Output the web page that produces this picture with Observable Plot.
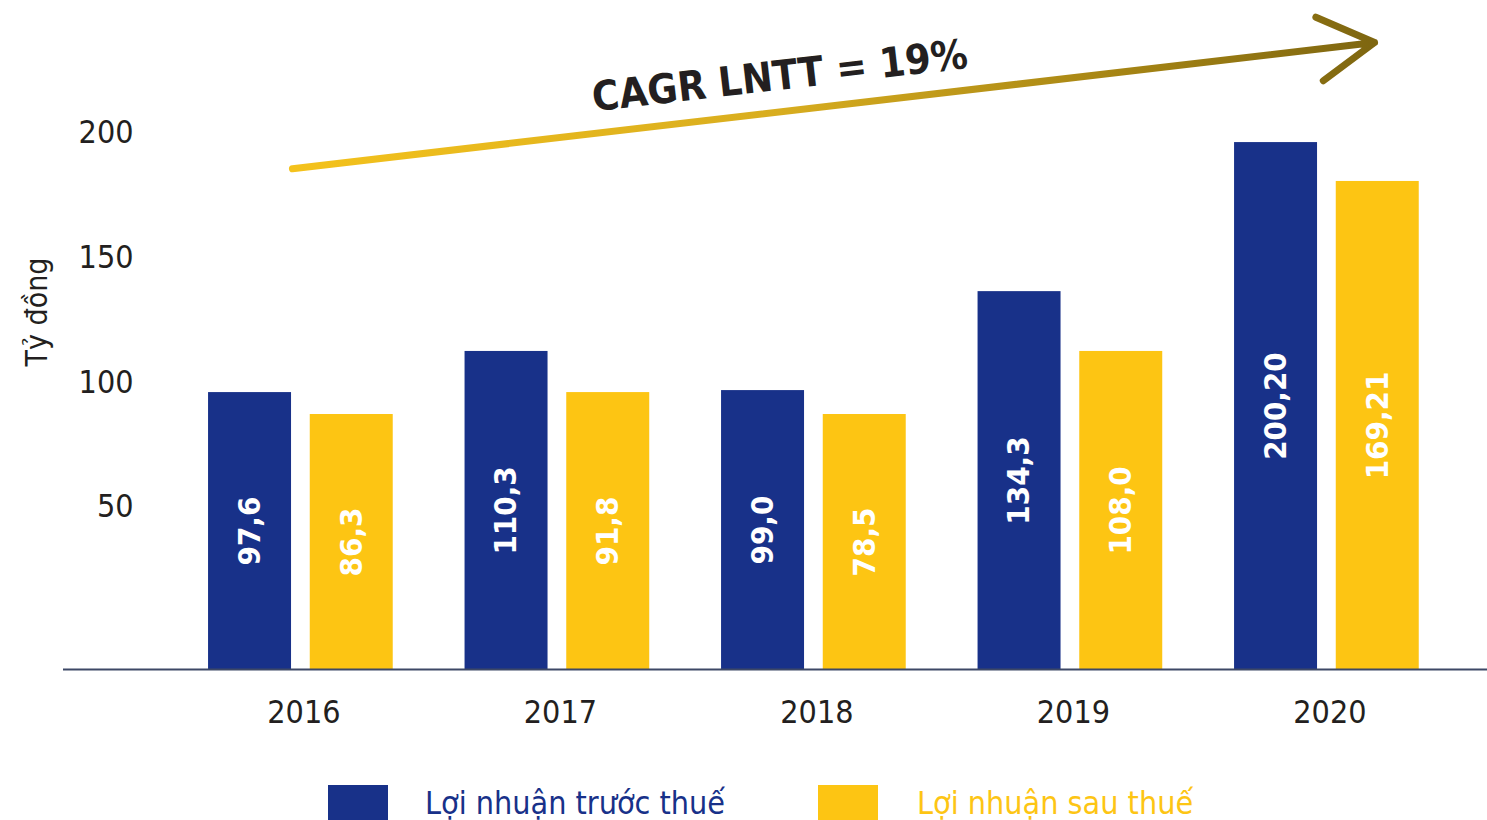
<!DOCTYPE html>
<html>
<head>
<meta charset="utf-8">
<script src="https://cdn.jsdelivr.net/npm/d3@7"></script>
<script src="https://cdn.jsdelivr.net/npm/@observablehq/plot@0.6"></script>
<style>
  html, body { margin: 0; padding: 0; background: #ffffff; overflow: hidden; }
  body { width: 1487px; height: 820px; font-family: "DejaVu Sans Condensed", "DejaVu Sans", sans-serif; }
  #legend { position: relative; height: 60px; }
  #legend .sw { position: absolute; top: 25px; width: 60px; height: 45px; }
  #legend .lt { position: absolute; top: 27px; font-size: 32px; line-height: 32px; white-space: nowrap; }
</style>
</head>
<body>
<div id="chart"></div>
<div id="legend"></div>
<script>
// ---- data ----
const years = ["2016", "2017", "2018", "2019", "2020"];
const seriesNames = ["Lợi nhuận trước thuế", "Lợi nhuận sau thuế"];
const beforeTax = [95.9, 112.4, 96.7, 136.4, 196.2];      // bar heights
const afterTax = [87.1, 95.9, 87.1, 112.4, 180.6];
const beforeTaxLabels = ["97,6", "110,3", "99,0", "134,3", "200,20"];
const afterTaxLabels = ["86,3", "91,8", "78,5", "108,0", "169,21"];
const yTicks = [50, 100, 150, 200];
const yDomain = [-15.2, 253.2];
const yTitle = "Tỷ đồng";
const cagrText = "CAGR LNTT = 19%";
const cagrAt = [{year: "2018", value: 223.5}];
const arrowPath = [{x1: "2016", y1: 186.1, x2: "2020", y2: 234.1}];

// ---- colours ----
const blue = "#183189";
const yellow = "#fdc513";
const ink = "#231f20";

const rows = years.map((year, i) => ({
  year,
  before: beforeTax[i],
  after: afterTax[i],
  beforeLabel: beforeTaxLabels[i],
  afterLabel: afterTaxLabels[i]
}));
const base = yDomain[0];
const font = "'DejaVu Sans Condensed', 'DejaVu Sans', sans-serif";

const chart = Plot.plot({
  width: 1487,
  height: 760,
  marginLeft: 63,
  marginRight: 0,
  marginTop: 0,
  marginBottom: 91,
  style: {fontFamily: font, color: ink, background: "#ffffff", overflow: "visible"},
  x: {domain: years, paddingInner: 0.28, paddingOuter: 0.4158, align: 0.68, round: false},
  y: {domain: yDomain},
  marks: [
    Plot.barY(rows, {x: "year", y1: () => base, y2: "before", fill: blue, insetRight: 101.7}),
    Plot.barY(rows, {x: "year", y1: () => base, y2: "after", fill: yellow, insetLeft: 101.7}),
    Plot.ruleY([base], {stroke: "#3d4866", strokeWidth: 2}),
    Plot.text(rows, {x: "year", y: d => (base + d.before) / 2, text: "beforeLabel", rotate: -90,
      dx: -50.9, fill: "#ffffff", fontSize: 31, fontWeight: "bold", textAnchor: "middle", lineAnchor: "middle"}),
    Plot.text(rows, {x: "year", y: d => (base + d.after) / 2, text: "afterLabel", rotate: -90,
      dx: 50.9, fill: "#ffffff", fontSize: 31, fontWeight: "bold", textAnchor: "middle", lineAnchor: "middle"}),
    Plot.axisY({ticks: yTicks, tickSize: 0, tickPadding: 0, dx: 70, fontSize: 32, label: null, tickFormat: d => String(d)}),
    Plot.axisX({tickSize: 0, tickPadding: 31, dx: 3, fontSize: 32, label: null}),
    Plot.text([yTitle], {frameAnchor: "left", dx: -26, dy: -23, rotate: -90, fontSize: 30,
      fill: ink, textAnchor: "middle", lineAnchor: "middle"}),
    Plot.arrow(arrowPath, {x1: "x1", y1: "y1", x2: "x2", y2: "y2", stroke: "url(#cagrGrad)",
      strokeWidth: 7, headAngle: 60, headLength: 13.7, insetStart: -8.5, insetEnd: -48}),
    Plot.text(cagrAt, {x: "year", y: "value", text: () => cagrText, rotate: -6.6, dx: -34, dy: 2,
      fontSize: 41, fontWeight: "bold", fill: ink, textAnchor: "middle", lineAnchor: "middle"})
  ]
});

// gradient for the CAGR arrow
const svg = d3.select(chart);
const defs = svg.insert("defs", ":first-child");
const grad = defs.append("linearGradient").attr("id", "cagrGrad")
  .attr("x1", "0").attr("y1", "0").attr("x2", "1").attr("y2", "0");
[["0", "#f4c21c"], ["0.45", "#d8ad1f"], ["0.8", "#a08013"], ["1", "#7e6610"]].forEach(([o, c]) =>
  grad.append("stop").attr("offset", o).attr("stop-color", c));

document.getElementById("chart").appendChild(chart);

// legend
const legend = d3.select("#legend");
const swatchLeft = [328, 818];
const textLeft = [425, 917];
const legendText = [blue, "#fdc514"];
seriesNames.forEach((name, i) => {
  legend.append("div").attr("class", "sw").style("left", swatchLeft[i] + "px").style("background", [blue, yellow][i]);
  legend.append("div").attr("class", "lt").style("left", textLeft[i] + "px").style("color", legendText[i]).text(name);
});
</script>
</body>
</html>
